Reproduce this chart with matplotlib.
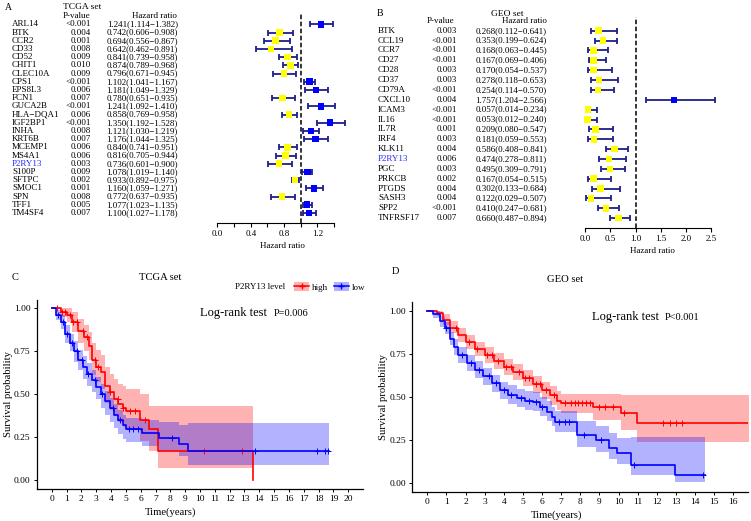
import numpy as np
import matplotlib
matplotlib.use('Agg')
import matplotlib.pyplot as plt
import matplotlib.transforms as mtransforms
from matplotlib.patches import Patch
from matplotlib.lines import Line2D

plt.rcParams['font.family'] = ['Liberation Serif', 'DejaVu Serif']

W, H = 751, 521

# ---- panel A: TCGA univariate cox ----
tcga_genes = ['ARL14', 'BTK', 'CCR2', 'CD33', 'CD52', 'CHIT1', 'CLEC10A', 'CPS1',
              'EPS8L3', 'FCN1', 'GUCA2B', 'HLA\u2212DQA1', 'IGF2BP1', 'INHA', 'KRT6B',
              'MCEMP1', 'MS4A1', 'P2RY13', 'S100P', 'SFTPC', 'SMOC1', 'SPN', 'TFF1', 'TM4SF4']
tcga_p = ['<0.001', '0.004', '0.001', '0.008', '0.009', '0.010', '0.009', '<0.001',
          '0.006', '0.007', '<0.001', '0.006', '<0.001', '0.008', '0.007', '0.006',
          '0.006', '0.003', '0.009', '0.002', '0.001', '0.008', '0.005', '0.007']
tcga_hr = [1.241, 0.742, 0.694, 0.642, 0.841, 0.874, 0.796, 1.102, 1.181, 0.780, 1.241, 0.858,
           1.350, 1.121, 1.176, 0.840, 0.816, 0.736, 1.078, 0.933, 1.160, 0.772, 1.077, 1.100]
tcga_lo = [1.114, 0.606, 0.556, 0.462, 0.739, 0.789, 0.671, 1.041, 1.049, 0.651, 1.092, 0.769,
           1.192, 1.030, 1.044, 0.741, 0.705, 0.601, 1.019, 0.892, 1.059, 0.637, 1.023, 1.027]
tcga_hi = [1.382, 0.908, 0.867, 0.891, 0.958, 0.968, 0.945, 1.167, 1.329, 0.935, 1.410, 0.958,
           1.528, 1.219, 1.325, 0.951, 0.944, 0.900, 1.140, 0.975, 1.271, 0.935, 1.135, 1.178]

# ---- panel B: GEO univariate cox ----
geo_genes = ['BTK', 'CCL19', 'CCR7', 'CD27', 'CD28', 'CD37', 'CD79A', 'CXCL10', 'ICAM3', 'IL16',
             'IL7R', 'IRF4', 'KLK11', 'P2RY13', 'PGC', 'PRKCB', 'PTGDS', 'SASH3', 'SPP2', 'TNFRSF17']
geo_p = ['0.003', '<0.001', '<0.001', '<0.001', '0.003', '0.003', '<0.001', '0.004', '<0.001',
         '<0.001', '0.001', '0.003', '0.004', '0.006', '0.003', '0.002', '0.004', '0.004',
         '<0.001', '0.007']
geo_hr = [0.268, 0.353, 0.168, 0.167, 0.170, 0.278, 0.254, 1.757, 0.057, 0.053,
          0.209, 0.181, 0.586, 0.474, 0.495, 0.167, 0.302, 0.122, 0.410, 0.660]
geo_lo = [0.112, 0.199, 0.063, 0.069, 0.054, 0.118, 0.114, 1.204, 0.014, 0.012,
          0.080, 0.059, 0.408, 0.278, 0.309, 0.054, 0.133, 0.029, 0.247, 0.487]
geo_hi = [0.641, 0.624, 0.445, 0.406, 0.537, 0.653, 0.570, 2.566, 0.234, 0.240,
          0.547, 0.553, 0.841, 0.811, 0.791, 0.515, 0.684, 0.507, 0.681, 0.894]

# ---- panel C: TCGA Kaplan-Meier (step points, 95% CI, censor times) ----
th_time = [0, 0.6, 1.0, 1.4, 1.8, 2.2, 2.5, 2.7, 3.0, 3.3, 3.6, 3.9, 4.2, 4.5, 4.8, 5.0, 5.95, 6.55, 7.15, 13.6]
th_surv = [1.0, 0.98, 0.96, 0.92, 0.87, 0.83, 0.78, 0.70, 0.66, 0.63, 0.55, 0.51, 0.47, 0.44, 0.42, 0.40, 0.35, 0.295, 0.17, 0.0]
th_up = [1.0, 1.0, 1.0, 0.98, 0.94, 0.90, 0.86, 0.80, 0.76, 0.73, 0.66, 0.62, 0.59, 0.56, 0.55, 0.53, 0.50, 0.43, 0.43, 0.43]
th_low = [1.0, 0.95, 0.92, 0.86, 0.80, 0.75, 0.70, 0.61, 0.57, 0.53, 0.45, 0.41, 0.37, 0.34, 0.31, 0.29, 0.23, 0.17, 0.07, 0.07]
th_cens = [0.34, 0.67, 0.9, 1.23, 1.46, 1.68, 2.13, 2.36, 2.92, 3.14, 3.93, 4.49, 4.83, 5.28, 5.6, 6.3, 10.3, 12.8]

tl_time = [0, 0.3, 0.6, 0.9, 1.2, 1.5, 1.8, 2.1, 2.4, 2.7, 3.0, 3.3, 3.6, 3.9, 4.2, 4.5, 4.8, 5.0, 6.1, 7.25, 8.6, 9.2, 18.7]
tl_surv = [1.0, 0.96, 0.92, 0.85, 0.80, 0.75, 0.70, 0.66, 0.62, 0.58, 0.54, 0.50, 0.46, 0.42, 0.38, 0.35, 0.32, 0.295, 0.275, 0.242, 0.21, 0.17, 0.17]
tl_up = [1.0, 0.99, 0.96, 0.90, 0.85, 0.81, 0.76, 0.72, 0.68, 0.64, 0.60, 0.56, 0.52, 0.48, 0.44, 0.41, 0.38, 0.36, 0.35, 0.34, 0.32, 0.33, 0.33]
tl_low = [1.0, 0.93, 0.88, 0.80, 0.75, 0.69, 0.64, 0.59, 0.55, 0.51, 0.47, 0.42, 0.38, 0.34, 0.30, 0.27, 0.24, 0.22, 0.20, 0.17, 0.14, 0.085, 0.085]
tl_cens = [0.45, 0.78, 1.01, 1.35, 1.68, 2.02, 2.47, 2.92, 3.37, 4.15, 4.6, 5.2, 5.5, 5.8, 8.1, 13.7, 17.9, 18.4, 18.6]

# ---- panel D: GEO Kaplan-Meier ----
gh_time = [0, 0.5, 0.8, 1.2, 1.6, 2.0, 2.5, 3.0, 3.5, 4.0, 4.5, 5.0, 5.5, 6.0, 6.4, 6.8, 7.0, 8.68, 10.1, 10.96, 16.8]
gh_surv = [1.0, 0.99, 0.95, 0.90, 0.86, 0.82, 0.78, 0.745, 0.71, 0.675, 0.645, 0.61, 0.575, 0.54, 0.51, 0.48, 0.468, 0.445, 0.406, 0.352, 0.352]
gh_up = [1.0, 1.0, 0.98, 0.94, 0.90, 0.86, 0.82, 0.79, 0.755, 0.72, 0.69, 0.655, 0.625, 0.59, 0.565, 0.535, 0.52, 0.52, 0.515, 0.512, 0.512]
gh_low = [1.0, 0.97, 0.92, 0.87, 0.82, 0.78, 0.74, 0.70, 0.665, 0.63, 0.60, 0.565, 0.525, 0.49, 0.455, 0.425, 0.41, 0.37, 0.31, 0.24, 0.24]
gh_cens = [1.5, 2.2, 2.6, 3.1, 3.4, 3.7, 4.1, 4.4, 4.8, 5.1, 5.3, 5.7, 5.9, 6.2, 6.6, 7.2, 7.5, 7.7,
           7.9, 8.1, 8.3, 8.5, 9.0, 9.3, 9.7, 10.3, 12.3, 12.7, 13.0, 13.3]

gl_time = [0, 0.3, 0.66, 0.9, 1.19, 1.4, 1.62, 2.06, 2.5, 2.93, 3.4, 3.8, 4.2, 4.67, 5.1, 5.54, 5.9,
           6.24, 6.5, 6.68, 7.85, 8.8, 9.5, 9.9, 10.65, 12.95, 14.5]
gl_surv = [1.0, 0.98, 0.94, 0.90, 0.84, 0.79, 0.745, 0.697, 0.66, 0.62, 0.58, 0.54, 0.515, 0.493, 0.48,
           0.474, 0.445, 0.416, 0.385, 0.358, 0.28, 0.251, 0.203, 0.174, 0.106, 0.048, 0.048]
gl_up = [1.0, 1.0, 0.97, 0.935, 0.88, 0.835, 0.79, 0.745, 0.71, 0.67, 0.63, 0.59, 0.57, 0.545, 0.535,
         0.53, 0.50, 0.475, 0.445, 0.42, 0.36, 0.33, 0.29, 0.26, 0.27, 0.27, 0.27]
gl_low = [1.0, 0.96, 0.91, 0.865, 0.80, 0.745, 0.70, 0.65, 0.61, 0.57, 0.53, 0.49, 0.46, 0.44, 0.425,
          0.42, 0.39, 0.36, 0.33, 0.30, 0.21, 0.18, 0.14, 0.11, 0.05, 0.01, 0.01]
gl_cens = [1.0, 1.8, 2.3, 2.7, 3.2, 3.6, 4.0, 4.4, 4.9, 5.3, 5.7, 6.0, 6.9, 7.2, 7.4, 8.2, 9.1, 10.8, 14.4]

NAVY = '#1f1f8a'
RED = '#ff0000'
BLUE = '#0000ff'

fig = plt.figure(figsize=(W / 100, H / 100), dpi=100)


def px_axes(left, top, right, bottom):
    return fig.add_axes([left / W, 1 - bottom / H, (right - left) / W, (bottom - top) / H])


def ftext(x, y, s, **kw):
    kw.setdefault('va', 'center')
    fig.text(x / W, 1 - y / H, s, **kw)


def forest(ax, genes, pvals, hr, lo, hi, name_x, p_x, hr_x, fs):
    hr, lo, hi = np.array(hr), np.array(lo), np.array(hi)
    rows = np.arange(len(genes))
    ax.errorbar(hr, rows, xerr=[hr - lo, hi - hr], fmt='none', ecolor=NAVY,
                elinewidth=1.3, capsize=2.4, capthick=1.3, zorder=2)
    cols = np.where(hr < 1, '#ffff00', BLUE)
    ax.scatter(hr, rows, marker='s', s=22, c=cols, edgecolors='none', zorder=3)
    ax.axvline(1, color='black', lw=1.1, ls=(0, (3, 1.6)), zorder=1)
    for side in ['top', 'right', 'left']:
        ax.spines[side].set_visible(False)
    ax.set_yticks([])
    ax.tick_params(axis='x', labelsize=fs, length=3, width=0.8, pad=2)
    ax.spines['bottom'].set_linewidth(0.8)
    ax.set_xlabel('Hazard ratio', fontsize=fs, labelpad=3)
    # table on the left, rows tied to the forest y scale
    tr = mtransforms.blended_transform_factory(fig.transFigure, ax.transData)
    for i, g in enumerate(genes):
        col = '#2a2aff' if g == 'P2RY13' else 'black'
        fig.text(name_x / W, i, g, transform=tr, fontsize=fs, va='center', color=col)
        fig.text(p_x / W, i, pvals[i], transform=tr, fontsize=fs, va='center', ha='right')
        txt = f'{hr[i]:.3f}({lo[i]:.3f}\u2212{hi[i]:.3f})'
        fig.text(hr_x / W, i, txt, transform=tr, fontsize=fs, va='center', ha='right')


# panel A
axA = px_axes(213.3, 12.7, 350.8, 222.7)
axA.set_xlim(-0.05, 1.6)
axA.set_ylim(24.195, -1.415)
forest(axA, tcga_genes, tcga_p, tcga_hr, tcga_lo, tcga_hi, 12, 91, 178, 6.5)
axA.spines['bottom'].set_bounds(0, 1.4)
axA.set_xticks(np.arange(0, 1.41, 0.2))
axA.set_xticklabels(['0.0', '', '0.4', '', '0.8', '', '1.2', ''])
ftext(5, 7, 'A', fontsize=7)
ftext(82, 7, 'TCGA set', fontsize=6.8, ha='center')
ftext(77, 15.5, 'P-value', fontsize=6.5, ha='center')
ftext(177, 15.5, 'Hazard ratio', fontsize=6.5, ha='right')

# panel B
axB = px_axes(582.5, 16.7, 721.6, 227.7)
axB.set_xlim(-0.05, 2.7)
axB.set_ylim(19.96, -1.418)
forest(axB, geo_genes, geo_p, geo_hr, geo_lo, geo_hi, 378, 457, 547, 6.5)
axB.spines['bottom'].set_bounds(0, 2.5)
axB.set_xticks(np.arange(0, 2.51, 0.5))
axB.set_xticklabels(['0.0', '0.5', '1.0', '1.5', '2.0', '2.5'])
ftext(377, 14, 'B', fontsize=7)
ftext(507, 14, 'GEO set', fontsize=6.8, ha='center')
ftext(441, 21, 'P-value', fontsize=6.5, ha='center')
ftext(547, 21, 'Hazard ratio', fontsize=6.5, ha='right')


def km(ax, t, s, lo, up, cens, color):
    t, s = np.array(t), np.array(s)
    ax.fill_between(t, lo, up, step='post', color=color, alpha=0.3, lw=0)
    ax.step(t, s, where='post', color=color, lw=1.2)
    idx = np.searchsorted(t, cens, side='right') - 1
    ax.plot(cens, s[idx], '+', color=color, ms=5, mew=0.7)


def km_axes(ax, xmax):
    for side in ['top', 'right']:
        ax.spines[side].set_visible(False)
    for side in ['left', 'bottom']:
        ax.spines[side].set_linewidth(0.9)
    ax.set_ylim(-0.05, 1.05)
    ax.set_yticks([0, 0.25, 0.5, 0.75, 1.0])
    ax.set_yticklabels(['0.00', '0.25', '0.50', '0.75', '1.00'])
    ax.set_xticks(np.arange(0, xmax + 1))
    ax.tick_params(labelsize=6.8, length=2.5, width=0.7, pad=2)
    ax.set_ylabel('Survival probability', fontsize=7.7, labelpad=1)


# panel C
axC = px_axes(36.9, 299.7, 363.1, 488.6)
km(axC, th_time, th_surv, th_low, th_up, th_cens, RED)
km(axC, tl_time, tl_surv, tl_low, tl_up, tl_cens, BLUE)
axC.set_xlim(-1, 21)
km_axes(axC, 20)
axC.set_xlabel('Time(years)', fontsize=7.7)
axC.xaxis.set_label_coords(0.411, -0.1)
ftext(12, 277, 'C', fontsize=7.5)
ftext(160, 277, 'TCGA set', fontsize=7.7, ha='center')
ftext(200, 313, 'Log-rank test', fontsize=9)
ftext(274, 313, 'P=0.006', fontsize=7.5)
ftext(260, 287, 'P2RY13 level', fontsize=6.5, ha='center')
hh = (Patch(facecolor=RED, alpha=0.3, lw=0), Line2D([], [], color=RED, lw=1.1, marker='+', ms=5))
hl = (Patch(facecolor=BLUE, alpha=0.3, lw=0), Line2D([], [], color=BLUE, lw=1.1, marker='+', ms=5))
fig.legend([hh, hl], ['high', 'low'], ncol=2, frameon=False, fontsize=6.5,
           loc='center left', bbox_to_anchor=(294 / W, 1 - 287 / H), borderaxespad=0,
           borderpad=0, handlelength=1.7, handleheight=1.2, handletextpad=0.3, columnspacing=0.6)

# panel D
axD = px_axes(412.3, 302.4, 748.3, 491.9)
km(axD, gh_time, gh_surv, gh_low, gh_up, gh_cens, RED)
km(axD, gl_time, gl_surv, gl_low, gl_up, gl_cens, BLUE)
axD.set_xlim(-0.784, 16.78)
km_axes(axD, 16)
axD.set_xlabel('Time(years)', fontsize=7.7)
axD.xaxis.set_label_coords(0.428, -0.1)
ftext(392, 271, 'D', fontsize=7.5)
ftext(565, 280, 'GEO set', fontsize=7.7, ha='center')
ftext(592, 317, 'Log-rank test', fontsize=9)
ftext(665, 317, 'P<0.001', fontsize=7.5)

fig.savefig('out.png', dpi=100)
